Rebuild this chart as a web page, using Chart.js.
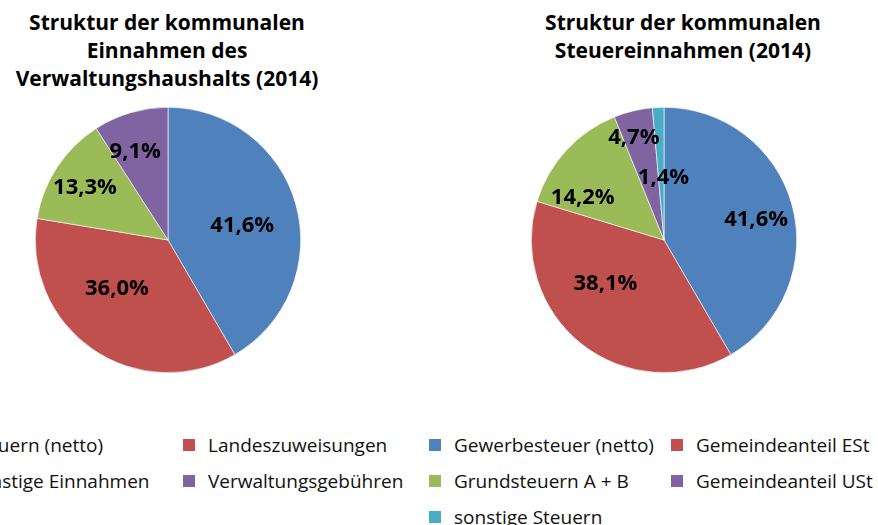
<!DOCTYPE html>
<html lang="de">
<head>
  <meta charset="UTF-8"/>
  <title>Struktur der kommunalen Einnahmen</title>
  <script src="https://cdn.jsdelivr.net/npm/chart.js"></script>
  <style>
    html, body { margin: 0; padding: 0; background: #fff; }
    body { width: 878px; height: 525px; position: relative; overflow: hidden; font-family: "Open Sans", sans-serif; color: #000; }
    .title { position: absolute; top: 8px; width: 360px; text-align: center; font-weight: bold; font-size: 21px; line-height: 28px; }
    .pie { position: absolute; top: 97px; width: 286px; height: 286px; }
    .legend { position: absolute; top: 434px; display: grid; row-gap: 14px; font-size: 19px; line-height: 22px; color: #111; }
    .legend .item { display: flex; align-items: center; white-space: nowrap; }
    .legend .box { width: 12px; height: 12px; margin-right: 13px; flex: none; }
  </style>
</head>
<body>
  <div class="title" style="left: -13px;">Struktur der kommunalen<br>Einnahmen des<br>Verwaltungshaushalts (2014)</div>
  <div class="title" style="left: 503px;">Struktur der kommunalen<br>Steuereinnahmen (2014)</div>

  <div class="pie" style="left: 25px;"><canvas id="chartLeft"></canvas></div>
  <div class="pie" style="left: 521px;"><canvas id="chartRight"></canvas></div>

  <div id="legendLeft" class="legend" style="left: -55px; grid-template-columns: 238px 238px;"></div>
  <div id="legendRight" class="legend" style="left: 429px; grid-template-columns: 242px 220px;"></div>

  <script>
    // Verwaltungshaushalt 2014
    const leftLabels = ['Steuern (netto)', 'Landeszuweisungen', 'sonstige Einnahmen', 'Verwaltungsgebühren'];
    const leftValues = [41.6, 36.0, 13.3, 9.1];

    // Steuereinnahmen 2014
    const rightLabels = ['Gewerbesteuer (netto)', 'Gemeindeanteil ESt', 'Grundsteuern A + B', 'Gemeindeanteil USt', 'sonstige Steuern'];
    const rightValues = [41.6, 38.1, 14.2, 4.7, 1.4];

    const colors = ['#4f81bd', '#c0504d', '#9bbb59', '#8064a2', '#4bacc6'];

    // draws the percent labels inside the slices
    // place: [fraction of radius, angle shift in degrees] per slice
    const sliceLabels = {
      id: 'sliceLabels',
      afterDatasetsDraw(chart, args, opts) {
        const ctx = chart.ctx;
        const meta = chart.getDatasetMeta(0);
        const values = chart.data.datasets[0].data;
        ctx.save();
        ctx.font = 'bold 22px "Open Sans", sans-serif';
        ctx.fillStyle = '#000';
        ctx.textAlign = 'center';
        ctx.textBaseline = 'middle';
        meta.data.forEach((arc, i) => {
          const p = arc.getProps(['x', 'y', 'startAngle', 'endAngle', 'outerRadius'], true);
          const [f, shift] = opts.place[i];
          const mid = (p.startAngle + p.endAngle) / 2 + shift * Math.PI / 180;
          const x = p.x + Math.cos(mid) * p.outerRadius * f;
          const y = p.y + Math.sin(mid) * p.outerRadius * f;
          ctx.fillText(values[i].toFixed(1).replace('.', ',') + '%', x, y);
        });
        ctx.restore();
      }
    };

    function makePie(id, labels, values, place) {
      return new Chart(document.getElementById(id), {
        type: 'pie',
        data: {
          labels,
          datasets: [{
            data: values,
            backgroundColor: colors.slice(0, values.length),
            borderColor: '#ffffff',
            borderWidth: 0.6
          }]
        },
        options: {
          responsive: true,
          maintainAspectRatio: false,
          animation: false,
          layout: { padding: 10 },
          plugins: {
            legend: { display: false },
            tooltip: { enabled: false },
            sliceLabels: { place }
          }
        },
        plugins: [sliceLabels]
      });
    }

    function makeLegend(id, labels) {
      const box = document.getElementById(id);
      labels.forEach((text, i) => {
        const item = document.createElement('div');
        item.className = 'item';
        item.innerHTML = '<span class="box" style="background:' + colors[i] + '"></span><span>' + text + '</span>';
        box.appendChild(item);
      });
    }

    makePie('chartLeft', leftLabels, leftValues, [[0.57, 4], [0.53, 12], [0.74, -1], [0.71, -4]]);
    makePie('chartRight', rightLabels, rightValues, [[0.71, 3], [0.55, 15], [0.69, -15], [0.8, -3], [0.47, 2]]);
    makeLegend('legendLeft', leftLabels);
    makeLegend('legendRight', rightLabels);
  </script>
</body>
</html>
